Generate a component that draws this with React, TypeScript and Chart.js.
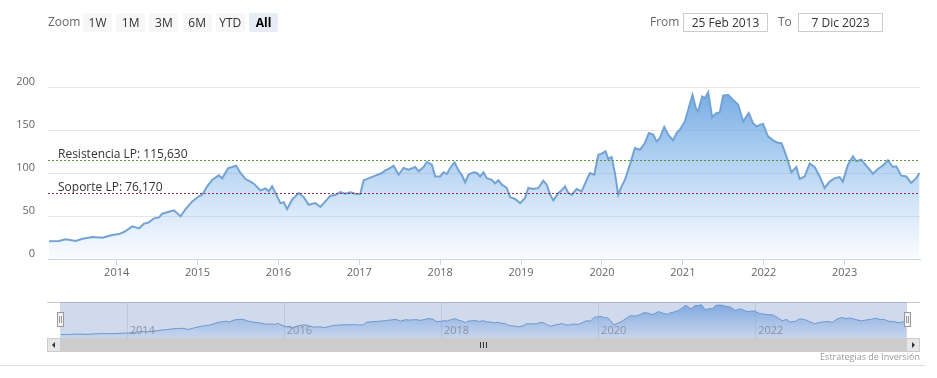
import React, { useEffect, useRef } from 'react';
import { Chart, registerables } from 'chart.js';

Chart.register(...registerables);

// ---- data (decimal year, price) ----
const dates = [
  2013.164, 2013.288, 2013.370, 2013.494, 2013.577, 2013.700, 2013.823, 2013.947,
  2014.029, 2014.091, 2014.193, 2014.276, 2014.337, 2014.399, 2014.461, 2014.523,
  2014.564, 2014.646, 2014.708, 2014.790, 2014.852, 2014.934, 2015.016, 2015.058,
  2015.119, 2015.181, 2015.263, 2015.305, 2015.379, 2015.428, 2015.477, 2015.531,
  2015.593, 2015.654, 2015.695, 2015.778, 2015.840, 2015.880, 2015.922, 2015.963,
  2016.025, 2016.066, 2016.107, 2016.169, 2016.251, 2016.312, 2016.374, 2016.457,
  2016.519, 2016.580, 2016.642, 2016.704, 2016.765, 2016.827, 2016.889, 2016.951,
  2017.012, 2017.053, 2017.115, 2017.198, 2017.280, 2017.321, 2017.362, 2017.424,
  2017.486, 2017.547, 2017.609, 2017.691, 2017.733, 2017.794, 2017.835, 2017.897,
  2017.938, 2018.000, 2018.041, 2018.082, 2018.123, 2018.177, 2018.226, 2018.268,
  2018.309, 2018.350, 2018.412, 2018.453, 2018.494, 2018.535, 2018.576, 2018.638,
  2018.679, 2018.720, 2018.762, 2018.823, 2018.864, 2018.926, 2018.988, 2019.049,
  2019.090, 2019.152, 2019.214, 2019.275, 2019.317, 2019.358, 2019.399, 2019.461,
  2019.502, 2019.543, 2019.584, 2019.626, 2019.687, 2019.749, 2019.811, 2019.852,
  2019.905, 2019.954, 2019.996, 2020.045, 2020.078, 2020.119, 2020.160, 2020.201,
  2020.243, 2020.284, 2020.346, 2020.407, 2020.469, 2020.531, 2020.580, 2020.634,
  2020.675, 2020.716, 2020.770, 2020.819, 2020.881, 2020.922, 2020.963, 2021.025,
  2021.066, 2021.119, 2021.160, 2021.189, 2021.239, 2021.272, 2021.313, 2021.362,
  2021.416, 2021.457, 2021.498, 2021.560, 2021.621, 2021.683, 2021.745, 2021.815,
  2021.868, 2021.909, 2021.951, 2021.991, 2022.053, 2022.115, 2022.177, 2022.218,
  2022.259, 2022.300, 2022.342, 2022.403, 2022.444, 2022.506, 2022.568, 2022.630,
  2022.691, 2022.753, 2022.815, 2022.877, 2022.938, 2022.979, 2023.041, 2023.103,
  2023.144, 2023.206, 2023.267, 2023.350, 2023.411, 2023.473, 2023.535, 2023.596,
  2023.638, 2023.700, 2023.762, 2023.823, 2023.885, 2023.926,
];

const prices = [
  20.5, 21, 23, 21, 23.6, 25.6, 24.8, 28,
  29, 31.4, 38, 35.6, 41, 42.6, 47.3, 48.4,
  52.7, 55, 56.6, 49.6, 58, 67, 72.9, 74.8,
  84.5, 92, 97.3, 93.8, 105.8, 107, 108.5, 100,
  93, 90, 87.6, 79.8, 82, 78.7, 84.5, 76.7,
  65, 66, 58, 69, 76.7, 72, 63, 65,
  60.5, 67, 73.6, 74.5, 77.9, 76, 77.5, 76,
  75.6, 91.5, 93.8, 96.9, 100, 103, 104.7, 108.5,
  98, 105.8, 103.9, 107, 102, 107, 112.8, 109.7,
  96, 96, 100.8, 98.8, 105.8, 112.4, 103, 97.7,
  89, 98, 100.8, 100, 96, 100.8, 94, 92,
  88, 91.5, 86.4, 82.6, 72, 69.8, 65, 71,
  82.6, 81.4, 82.6, 91, 86.4, 74.8, 68.2, 76.7,
  79.8, 84.5, 76.7, 74.8, 81.4, 78.7, 92, 100,
  98, 121.3, 122.5, 125.2, 116.3, 118.6, 100, 74.8,
  84.5, 92, 109.7, 129, 127, 134.9, 146.5, 144.6,
  136.8, 140.7, 153.5, 144.6, 138, 146.5, 150.4, 160,
  173.6, 191, 175.6, 171.7, 189, 187, 193.8, 165,
  169.8, 170.5, 190, 191, 185, 179.5, 160, 169.8,
  158, 154, 156, 157, 142.6, 138, 134.9, 134.9,
  125.2, 113.6, 100.8, 107, 93, 96, 110.9, 107,
  96, 82.6, 90, 94, 95.3, 90, 109.7, 119.4,
  113.6, 115.5, 108.5, 99.2, 104.7, 108.5, 114.7, 107,
  107.8, 96.9, 96, 88.4, 94, 100,
];

const resistanceValue = 115.63;
const supportValue = 76.17;
const resistanceLabel = 'Resistencia LP: 115,630';
const supportLabel = 'Soporte LP: 76,170';

const yTicks = [0, 50, 100, 150, 200];
const xYears = [2014, 2015, 2016, 2017, 2018, 2019, 2020, 2021, 2022, 2023];
const navYears = [2014, 2016, 2018, 2020, 2022];
const xMin = 2013.151;
const xMax = 2023.932;

const rangeButtons = ['1W', '1M', '3M', '6M', 'YTD', 'All'];
const selectedButton = 'All';
const fromDate = '25 Feb 2013';
const toDate = '7 Dic 2023';
const creditText = 'Estrategias de Inversión';

const FONT = '"Open Sans", "DejaVu Sans", sans-serif';

function areaGradient(chart: any, top: string, bottom: string) {
  const { ctx, chartArea } = chart;
  if (!chartArea) return bottom;
  const g = ctx.createLinearGradient(0, chartArea.top, 0, chartArea.bottom);
  g.addColorStop(0, top);
  g.addColorStop(1, bottom);
  return g;
}

const levelsPlugin = {
  id: 'levels',
  afterDatasetsDraw(chart: any) {
    const { ctx, chartArea, scales } = chart;
    const levels = [
      { v: resistanceValue, color: '#5b9440', label: resistanceLabel },
      { v: supportValue, color: '#952a4a', label: supportLabel },
    ];
    ctx.save();
    for (const l of levels) {
      const y = Math.round(scales.y.getPixelForValue(l.v)) + 0.5;
      ctx.strokeStyle = l.color;
      ctx.lineWidth = 1;
      ctx.setLineDash([2, 2]);
      ctx.beginPath();
      ctx.moveTo(chartArea.left, y);
      ctx.lineTo(chartArea.right, y);
      ctx.stroke();
      ctx.setLineDash([]);
      ctx.fillStyle = '#333333';
      ctx.font = `12px ${FONT}`;
      ctx.textAlign = 'left';
      ctx.textBaseline = 'alphabetic';
      ctx.fillText(l.label, chartArea.left + 10, y - 3);
    }
    ctx.restore();
  },
};

const navPlugin = {
  id: 'navDecor',
  beforeDatasetsDraw(chart: any) {
    const { ctx, chartArea, scales } = chart;
    ctx.save();
    ctx.strokeStyle = '#e6e6e6';
    ctx.lineWidth = 1;
    for (const yr of navYears) {
      const x = Math.round(scales.x.getPixelForValue(yr)) + 0.5;
      ctx.beginPath();
      ctx.moveTo(x, chartArea.top);
      ctx.lineTo(x, chartArea.bottom);
      ctx.stroke();
    }
    ctx.restore();
  },
  afterDatasetsDraw(chart: any) {
    const { ctx, chartArea, scales } = chart;
    ctx.save();
    ctx.fillStyle = '#999999';
    ctx.font = `11px ${FONT}`;
    ctx.textAlign = 'left';
    ctx.textBaseline = 'alphabetic';
    for (const yr of navYears) {
      const x = scales.x.getPixelForValue(yr);
      ctx.fillText(String(yr), x + 3, chartArea.bottom - 4);
    }
    ctx.fillStyle = 'rgba(102,133,194,0.3)';
    ctx.fillRect(chartArea.left, chartArea.top, chartArea.right - chartArea.left, chartArea.bottom - chartArea.top);
    ctx.restore();
  },
};

export default function App() {
  const mainRef = useRef<HTMLCanvasElement>(null);
  const navRef = useRef<HTMLCanvasElement>(null);

  useEffect(() => {
    const points = dates.map((d, i) => ({ x: d, y: prices[i] }));
    const main = new Chart(mainRef.current as HTMLCanvasElement, {
      type: 'line',
      data: {
        datasets: [
          {
            data: points,
            borderColor: '#72a3d4',
            borderWidth: 2,
            pointRadius: 0,
            tension: 0,
            fill: 'origin',
            backgroundColor: (c: any) =>
              areaGradient(c.chart, 'rgba(100,160,225,0.9)', 'rgba(124,181,236,0.04)'),
          },
        ],
      },
      options: {
        animation: false,
        responsive: false,
        maintainAspectRatio: false,
        layout: { padding: { left: 0, top: 87, right: 17, bottom: 89 } },
        plugins: { legend: { display: false }, tooltip: { enabled: false } },
        scales: {
          x: {
            type: 'linear',
            min: xMin,
            max: xMax,
            afterBuildTicks: (s: any) => {
              s.ticks = xYears.map((v) => ({ value: v }));
            },
            afterFit: (s: any) => {
              s.height = 30;
            },
            grid: { drawOnChartArea: false, drawTicks: true, tickLength: 6, color: '#ccd6eb' },
            border: { display: true, color: '#ccd6eb', width: 1 },
            ticks: {
              autoSkip: false,
              maxRotation: 0,
              padding: 1,
              color: '#666666',
              font: { family: FONT, size: 11 },
              callback: (v: any) => String(v),
            },
          },
          y: {
            min: 0,
            max: 200,
            afterBuildTicks: (s: any) => {
              s.ticks = yTicks.map((v) => ({ value: v }));
            },
            afterFit: (s: any) => {
              s.width = 48;
            },
            grid: { color: '#e6e6e6', drawTicks: false },
            border: { display: false },
            ticks: {
              padding: 13,
              labelOffset: -5,
              color: '#666666',
              font: { family: FONT, size: 11 },
            },
          },
        },
      },
      plugins: [levelsPlugin],
    } as any);

    const nav = new Chart(navRef.current as HTMLCanvasElement, {
      type: 'line',
      data: {
        datasets: [
          {
            data: points,
            borderColor: '#6c9fd6',
            borderWidth: 1,
            pointRadius: 0,
            tension: 0,
            fill: 'origin',
            backgroundColor: (c: any) =>
              areaGradient(c.chart, 'rgba(110,165,230,0.85)', 'rgba(124,181,236,0.1)'),
          },
        ],
      },
      options: {
        animation: false,
        responsive: false,
        maintainAspectRatio: false,
        layout: { padding: 0 },
        plugins: { legend: { display: false }, tooltip: { enabled: false } },
        scales: {
          x: { type: 'linear', min: xMin, max: xMax, display: false },
          y: { min: 0, max: 209, display: false },
        },
      },
      plugins: [navPlugin],
    } as any);

    return () => {
      main.destroy();
      nav.destroy();
    };
  }, []);

  const txt: React.CSSProperties = {
    position: 'absolute',
    fontFamily: FONT,
    fontSize: 12,
    lineHeight: '18px',
    whiteSpace: 'nowrap',
  };

  return (
    <div
      style={{
        position: 'absolute',
        left: 0,
        top: 0,
        width: 937,
        height: 378,
        background: '#ffffff',
        overflow: 'hidden',
      }}
    >
      <canvas
        ref={mainRef}
        width={937}
        height={378}
        style={{ position: 'absolute', left: 0, top: 0, width: 937, height: 378, display: 'block' }}
      />
      {/* range selector */}
      <div style={{ ...txt, left: 48, top: 13, color: '#666666' }}>Zoom</div>
      {rangeButtons.map((b, i) => (
        <div
          key={b}
          style={{
            ...txt,
            left: 83 + i * 33.2,
            top: 13,
            width: 29,
            height: 19,
            lineHeight: '19px',
            textAlign: 'center',
            borderRadius: 2,
            background: b === selectedButton ? '#e6ebf5' : '#f7f7f7',
            color: b === selectedButton ? '#000000' : '#333333',
            fontWeight: b === selectedButton ? 700 : 400,
          }}
        >
          {b}
        </div>
      ))}
      {/* date inputs */}
      <div style={{ ...txt, left: 650, top: 13, color: '#666666' }}>From</div>
      <div
        style={{
          ...txt,
          left: 683,
          top: 13,
          width: 83,
          height: 17,
          lineHeight: '17px',
          border: '1px solid #cccccc',
          textAlign: 'center',
          color: '#333333',
        }}
      >
        {fromDate}
      </div>
      <div style={{ ...txt, left: 778, top: 13, color: '#666666' }}>To</div>
      <div
        style={{
          ...txt,
          left: 798,
          top: 13,
          width: 83,
          height: 17,
          lineHeight: '17px',
          border: '1px solid #cccccc',
          textAlign: 'center',
          color: '#333333',
        }}
      >
        {toDate}
      </div>

      {/* navigator */}
      <div style={{ position: 'absolute', left: 47, top: 302, width: 873, height: 1, background: '#cccccc' }} />
      <canvas
        ref={navRef}
        width={847}
        height={36}
        style={{ position: 'absolute', left: 60, top: 302, width: 847, height: 36, display: 'block' }}
      />
      {[57, 904].map((l) => (
        <div
          key={l}
          style={{
            position: 'absolute',
            left: l,
            top: 312,
            width: 5,
            height: 13,
            background: '#f2f2f2',
            border: '1px solid #999999',
          }}
        >
          <div style={{ position: 'absolute', left: 1, top: 3, width: 1, height: 7, background: '#999999' }} />
          <div style={{ position: 'absolute', left: 3, top: 3, width: 1, height: 7, background: '#999999' }} />
        </div>
      ))}

      {/* scrollbar */}
      <div style={{ position: 'absolute', left: 47, top: 338, width: 873, height: 14, background: '#f2f2f2' }} />
      <div style={{ position: 'absolute', left: 61, top: 338, width: 845, height: 14, background: '#cccccc' }} />
      <div
        style={{
          position: 'absolute',
          left: 47,
          top: 338,
          width: 12,
          height: 12,
          background: '#e6e6e6',
          border: '1px solid #cccccc',
        }}
      >
        <div
          style={{
            position: 'absolute',
            left: 4,
            top: 3,
            width: 0,
            height: 0,
            borderTop: '3px solid transparent',
            borderBottom: '3px solid transparent',
            borderRight: '3px solid #333333',
          }}
        />
      </div>
      <div
        style={{
          position: 'absolute',
          left: 906,
          top: 338,
          width: 12,
          height: 12,
          background: '#e6e6e6',
          border: '1px solid #cccccc',
        }}
      >
        <div
          style={{
            position: 'absolute',
            left: 5,
            top: 3,
            width: 0,
            height: 0,
            borderTop: '3px solid transparent',
            borderBottom: '3px solid transparent',
            borderLeft: '3px solid #333333',
          }}
        />
      </div>
      {[-3, 0, 3].map((d) => (
        <div
          key={d}
          style={{ position: 'absolute', left: 483 + d, top: 342, width: 1, height: 6, background: '#333333' }}
        />
      ))}

      {/* credits */}
      <div
        style={{
          position: 'absolute',
          right: 937 - 920,
          top: 351,
          fontFamily: FONT,
          fontSize: 9,
          lineHeight: '12px',
          color: '#999999',
          whiteSpace: 'nowrap',
        }}
      >
        {creditText}
      </div>
      <div style={{ position: 'absolute', left: 0, top: 365, width: 925, height: 1, background: '#dddddd' }} />
    </div>
  );
}
